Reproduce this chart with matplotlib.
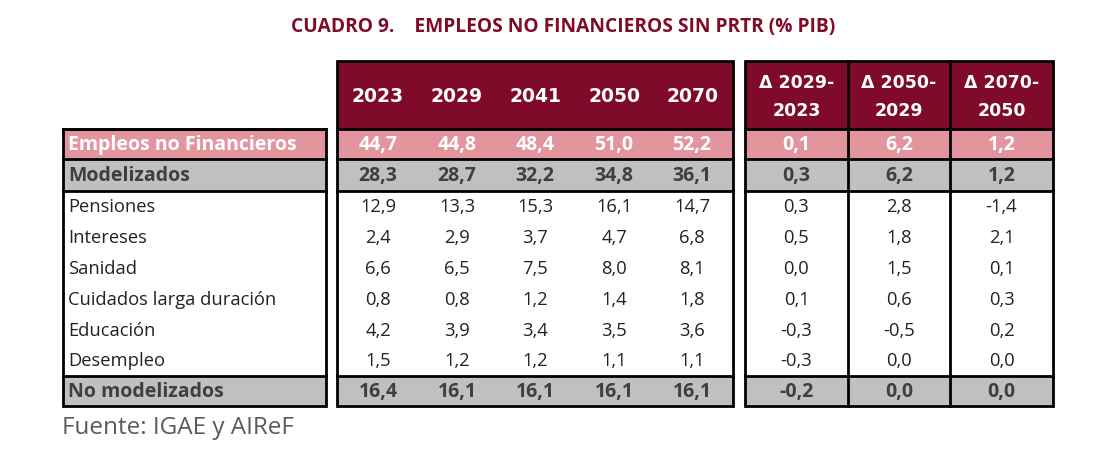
import matplotlib
matplotlib.use("Agg")
import matplotlib.pyplot as plt
from matplotlib.patches import Rectangle

# datos del cuadro
titulo = "CUADRO 9.    EMPLEOS NO FINANCIEROS SIN PRTR (% PIB)"
fuente = "Fuente: IGAE y AIReF"
anios = ["2023", "2029", "2041", "2050", "2070"]
deltas = ["Δ 2029-\n2023", "Δ 2050-\n2029", "Δ 2070-\n2050"]
filas = ["Empleos no Financieros", "Modelizados", "Pensiones", "Intereses", "Sanidad",
         "Cuidados larga duración", "Educación", "Desempleo", "No modelizados"]
v2023 = [44.7, 28.3, 12.9, 2.4, 6.6, 0.8, 4.2, 1.5, 16.4]
v2029 = [44.8, 28.7, 13.3, 2.9, 6.5, 0.8, 3.9, 1.2, 16.1]
v2041 = [48.4, 32.2, 15.3, 3.7, 7.5, 1.2, 3.4, 1.2, 16.1]
v2050 = [51.0, 34.8, 16.1, 4.7, 8.0, 1.4, 3.5, 1.1, 16.1]
v2070 = [52.2, 36.1, 14.7, 6.8, 8.1, 1.8, 3.6, 1.1, 16.1]
d1 = [0.1, 0.3, 0.3, 0.5, 0.0, 0.1, -0.3, -0.3, -0.2]
d2 = [6.2, 6.2, 2.8, 1.8, 1.5, 0.6, -0.5, 0.0, 0.0]
d3 = [1.2, 1.2, -1.4, 2.1, 0.1, 0.3, 0.2, 0.0, 0.0]

GRANATE = "#800A2A"
ROSA = "#E3959E"
GRIS = "#C0C0C0"
TXT_GRIS = "#3F3F3F"
TXT = "#222222"
plt.rcParams['font.family'] = ['Open Sans', 'DejaVu Sans']

fig = plt.figure(figsize=(11.07, 4.56), dpi=100)
ax = fig.add_axes([0, 0, 1, 1])
ax.set_xlim(0, 1107)
ax.set_ylim(456, 0)
ax.axis("off")

# geometria en pixeles
x_lab0, x_lab1 = 63, 326
x_num0, x_num1 = 337, 733
x_del = [745, 848, 950, 1053]
x_cols = [378, 457, 535, 614, 692]
y_head = 62
y_rows = [130, 160, 192] + [192 + 30.8 * (i + 1) for i in range(6)] + [407]
lw = 2

fmt = lambda v: f"{v:.1f}".replace(".", ",")


def caja(x0, x1, y0, y1, color):
    ax.add_patch(Rectangle((x0, y0), x1 - x0, y1 - y0, facecolor=color, edgecolor="none"))


# fondos
caja(x_num0, x_num1, y_head, y_rows[0], GRANATE)
caja(x_del[0], x_del[3], y_head, y_rows[0], GRANATE)
for x0, x1 in [(x_lab0, x_lab1), (x_num0, x_num1), (x_del[0], x_del[3])]:
    caja(x0, x1, y_rows[0], y_rows[1], ROSA)
    caja(x0, x1, y_rows[1], y_rows[2], GRIS)
    caja(x0, x1, y_rows[8], y_rows[9], GRIS)

# bordes
for x0, x1, ytop in [(x_lab0, x_lab1, y_rows[0]), (x_num0, x_num1, y_head), (x_del[0], x_del[3], y_head)]:
    ax.add_patch(Rectangle((x0, ytop), x1 - x0, y_rows[9] - ytop, facecolor="none", edgecolor="black", lw=lw))
    for y in [y_rows[0], y_rows[1], y_rows[2], y_rows[8]]:
        ax.plot([x0, x1], [y, y], color="black", lw=lw)
for x in x_del[1:3]:
    ax.plot([x, x], [y_head, y_rows[9]], color="black", lw=lw)

# cabeceras
for x, a in zip(x_cols, anios):
    ax.text(x, 97, a, ha="center", va="center", color="white", fontsize=13.5, fontweight="bold",
            family=["DejaVu Sans"])
for i, d in enumerate(deltas):
    xc = (x_del[i] + x_del[i + 1]) / 2
    ax.text(xc, 97, d, ha="center", va="center", color="white", fontsize=12.5,
            fontweight="bold", linespacing=1.75, family=["DejaVu Sans"])

ax.text(563, 27, titulo, ha="center", va="center", color=GRANATE, fontsize=13.8, fontweight="bold")

# filas
columnas = [v2023, v2029, v2041, v2050, v2070]
cols_delta = [d1, d2, d3]
for i, nombre in enumerate(filas):
    yc = (y_rows[i] + y_rows[i + 1]) / 2
    if i == 0:
        color, peso = "white", "bold"
    elif i in (1, 8):
        color, peso = TXT_GRIS, "bold"
    else:
        color, peso = TXT, "normal"
    fs = 14 if peso == "bold" else 13.2
    ax.text(x_lab0 + 5, yc, nombre, ha="left", va="center", color=color, fontsize=fs, fontweight=peso)
    for x, col in zip(x_cols, columnas):
        ax.text(x, yc, fmt(col[i]), ha="center", va="center", color=color, fontsize=fs, fontweight=peso)
    for j, col in enumerate(cols_delta):
        xc = (x_del[j] + x_del[j + 1]) / 2
        ax.text(xc, yc, fmt(col[i]), ha="center", va="center", color=color, fontsize=fs, fontweight=peso)

ax.text(62, 428, fuente, ha="left", va="center", color="#5a5a5a", fontsize=17.5)

fig.savefig("out.png", dpi=100)
